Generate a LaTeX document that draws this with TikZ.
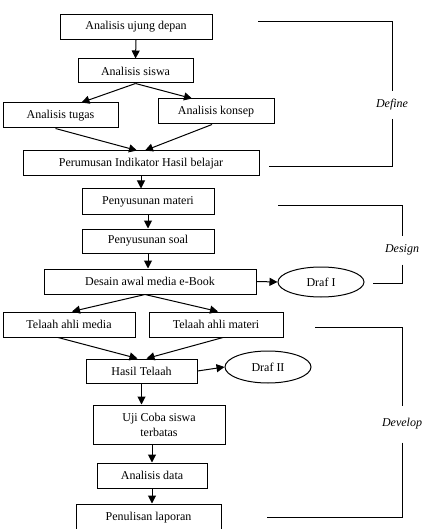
\documentclass[tikz,border=0pt]{standalone}
\usepackage{fontspec}
\setmainfont{Liberation Serif}
\usetikzlibrary{arrows.meta,shapes.geometric}

\begin{document}
\begin{tikzpicture}[x=1pt,y=-1pt,line width=1pt,
	box/.style={draw,inner sep=0pt,minimum height=25pt,font=\fontsize{12}{15}\selectfont},
	draf/.style={draw,ellipse,inner sep=0pt,minimum width=86pt,minimum height=31pt,font=\fontsize{12}{15}\selectfont},
	fase/.style={inner sep=0pt,minimum width=36pt,font=\fontsize{12}{15}\selectfont\itshape},
	arr/.style={-{Triangle[length=8pt,width=8pt]}}]
	\useasboundingbox (0,0) rectangle (424,529);
	
	\node[box,minimum width=152pt] (depan) at (136,27) {Analisis ujung depan};
	\node[box,minimum width=115pt,minimum height=24pt] (siswa) at (135.5,71) {Analisis siswa};
	\node[box,minimum width=115pt] (tugas) at (60.5,115.5) {Analisis tugas};
	\node[box,minimum width=116pt] (konsep) at (216,111.5) {Analisis konsep};
	\node[box,minimum width=236pt] (rumus) at (141,163.5) {Perumusan Indikator Hasil belajar};
	
	\node[box,minimum width=132pt] (materi) at (148,201.5) {Penyusunan materi};
	\node[box,minimum width=132pt,minimum height=24pt] (soal) at (148,241) {Penyusunan soal};
	\node[box,minimum width=212pt] (desain) at (150,281.5) {Desain awal media e-Book};
	\node[draf,minimum height=30pt] (drafa) at (321,282) {Draf I};
	
	\node[box,minimum width=132pt] (media) at (69,324.5) {Telaah ahli media};
	\node[box,minimum width=134pt] (ahlimateri) at (216,324.5) {Telaah ahli materi};
	\node[box,minimum width=111pt,minimum height=24pt] (hasil) at (141.5,371) {Hasil Telaah};
	\node[draf,minimum height=32pt] (drafb) at (268,367) {Draf II};
	\node[box,minimum width=132pt,minimum height=39pt,align=center] (uji) at (159,424.5) {Uji Coba siswa\\terbatas};
	\node[box,minimum width=110pt] (data) at (152,475.5) {Analisis data};
	\node[box,minimum width=145pt,minimum height=28pt] (laporan) at (148.5,518) {Penulisan laporan};
	
	\draw[arr] (depan.south) -- (siswa.north);
	\draw[arr] (siswa.south) -- ([xshift=21pt]tugas.north);
	\draw[arr] (siswa.south) -- ([xshift=-24pt]konsep.north);
	\draw[arr] ([xshift=-5pt]tugas.south) -- ([xshift=-4pt]rumus.north);
	\draw[arr] ([xshift=-4pt]konsep.south) -- ([xshift=4pt]rumus.north);
	\draw[arr] (rumus.south) -- (rumus.south |- materi.north);
	\draw[arr] (materi.south) -- (soal.north);
	\draw[arr] (soal.south) -- (soal.south |- desain.north);
	\draw[arr] (desain.east) -- (drafa.west);
	\draw[arr] ([xshift=-5pt]desain.south) -- ([xshift=3pt]media.north);
	\draw[arr] ([xshift=-5pt]desain.south) -- ([xshift=2pt]ahlimateri.north);
	\draw[arr] ([xshift=-11pt]media.south) -- ([xshift=-4pt]hasil.north);
	\draw[arr] ([xshift=7pt]ahlimateri.south) -- ([xshift=5pt]hasil.north);
	\draw[arr] (hasil.east) -- (drafb.west);
	\draw[arr] (hasil.south) -- (hasil.south |- uji.north);
	\draw[arr] (data.north |- uji.south) -- (data.north);
	\draw[arr] (data.south) -- (data.south |- laporan.north);
	
	\node[fase,minimum height=27pt] (define) at (392,105) {Define};
	\node[fase,minimum height=28pt] (design) at (402,250) {Design};
	\node[fase,minimum height=36pt] (develop) at (402,424) {Develop};
	\coordinate (define-a) at (258,22);
	\coordinate (define-b) at (269,167);
	\coordinate (design-a) at (278,205);
	\coordinate (design-b) at (373,283);
	\coordinate (develop-a) at (315,327);
	\coordinate (develop-b) at (267,517);
	\draw (define-a) -| (define.north);
	\draw (define.south) |- (define-b);
	\draw (design-a) -| (design.north);
	\draw (design.south) |- (design-b);
	\draw (develop-a) -| (develop.north);
	\draw (develop.south) |- (develop-b);
\end{tikzpicture}
\end{document}
